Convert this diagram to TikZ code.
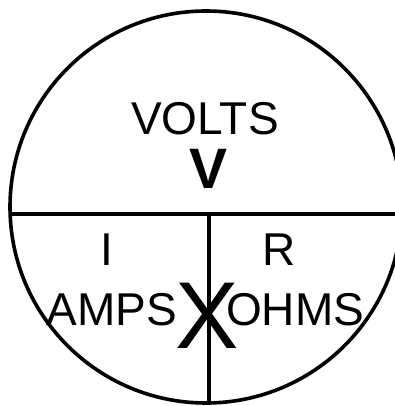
\documentclass[tikz,border=0pt]{standalone}
\usepackage{fontspec}
\setmainfont{Liberation Sans}
\begin{document}
\begin{tikzpicture}[x=1pt,y=-1pt,
  lbl/.style={inner sep=0pt,anchor=base,font=\fontsize{46}{46}\selectfont},
  big/.style={inner sep=0pt,anchor=base,font=\fontsize{57}{57}\selectfont\bfseries},
  huge/.style={inner sep=0pt,anchor=base,font=\fontsize{95}{95}\selectfont},
  ln/.style={line width=3.6pt,black}]
\useasboundingbox (0,0) rectangle (395,406);
\begin{scope}
\clip (0,0) rectangle (395,406);
\coordinate (c) at (206,207);
\draw[ln] (c) circle (196);
\coordinate (hl) at (10,214);
\coordinate (hr) at (400,214);
\coordinate (vt) at (209,214);
\coordinate (vb) at (209,404);
\draw[ln] (hl) -- (hr);
\draw[ln] (vt) -- (vb);
\end{scope}
\node[lbl] (volts) at (205,135) {VOLTS};
\node[big] (v) at (209,188) {V};
\node[lbl] (i) at (107,265) {I};
\node[lbl] (r) at (279,265) {R};
\node[lbl] (amps) at (111.5,325) {AMPS};
\node[lbl] (ohms) at (295,325) {OHMS};
\node[huge] (x) at (207.5,348) {X};
\end{tikzpicture}
\end{document}
